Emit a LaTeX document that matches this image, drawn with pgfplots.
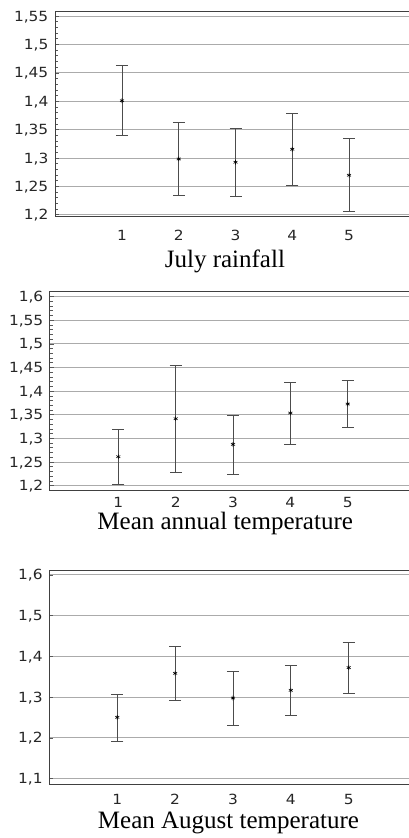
\documentclass[border=0pt]{standalone}
\usepackage{pgfplots}
\pgfplotsset{compat=1.18}
\usepackage{pgfplotstable}
\usepackage{fontspec}
\setmainfont{Liberation Serif}
\newfontfamily\tickfont[FakeStretch=1.1]{DejaVu Sans}
\newcommand\tickfontsize{\tickfont\fontsize{14}{16}\selectfont}

\pgfplotstableread{
x y lo hi
1 1.4010 1.3390 1.4626
2 1.2985 1.2346 1.3630
3 1.2927 1.2330 1.3525
4 1.3155 1.2516 1.3790
5 1.2698 1.2065 1.3350
}\julyrain

\pgfplotstableread{
x y lo hi
1 1.2614 1.2028 1.3185
2 1.3418 1.2282 1.4547
3 1.2875 1.2240 1.3489
4 1.3538 1.2882 1.4180
5 1.3728 1.3242 1.4236
}\annualtemp

\pgfplotstableread{
x y lo hi
1 1.2506 1.1917 1.3070
2 1.3586 1.2923 1.4249
3 1.2980 1.2309 1.3635
4 1.3169 1.2555 1.3790
5 1.3725 1.3095 1.4339
}\augtemp

\pgfplotsset{
  panel/.style={
    scale only axis,
    anchor=north west,
    /pgf/number format/use comma,
    /pgf/number format/assume math mode=true,
    tick label style={text=black!85, font=\tickfontsize},
    xtick={1,2,3,4,5},
    xtick pos=bottom,
    ytick pos=left,
    tick align=inside,
    major tick length=4pt,
    minor tick length=3pt,
    tick style={draw=black!65, line width=0.8pt},
    x tick style={draw=none},
    ymajorgrids,
    major grid style={draw=black!33, line width=1pt},
    axis line style={draw=black!75, line width=1pt},
    yticklabel style={anchor=base east, inner sep=0pt, xshift=-6.5pt, yshift=-5pt},
    xlabel style={font=\fontsize{25}{28}\selectfont, anchor=base, inner sep=0pt},
    clip=false,
  },
  ebar/.style={
    draw=black!70, line width=0.9pt,
    mark=asterisk, mark size=2.3pt, mark options={black, line width=0.6pt},
    only marks,
    error bars/.cd, y dir=both, y explicit,
    error bar style={draw=black!70, line width=0.9pt},
    error mark options={rotate=90, mark size=6pt, line width=0.9pt, draw=black!70},
  },
}

\begin{document}
\begin{tikzpicture}
\useasboundingbox (0,0) rectangle (408pt,-838pt);

% Panel 1: July rainfall
\begin{axis}[panel,
  at={(55pt,-11pt)}, width=357pt, height=205pt,
  xmin=-0.18, xmax=6.109, ymin=1.198, ymax=1.559,
  ytick={1.2,1.25,1.3,1.35,1.4,1.45,1.5,1.55},
  minor y tick num=4,
  xticklabel style={anchor=base, inner sep=0pt, yshift=-24.5pt},
  xlabel={July rainfall},
  xlabel style={at={(axis description cs:0.476,0)}, yshift=-51pt},
]
\addplot+[ebar] table[x=x, y=y,
  y error plus expr=\thisrow{hi}-\thisrow{y},
  y error minus expr=\thisrow{y}-\thisrow{lo}] {\julyrain};
\end{axis}

% Panel 2: Mean annual temperature
\begin{axis}[panel,
  at={(50pt,-291pt)}, width=362pt, height=199.7pt,
  xmin=-0.191, xmax=6.121, ymin=1.1894, ymax=1.612,
  ytick={1.2,1.25,1.3,1.35,1.4,1.45,1.5,1.55,1.6},
  minor y tick num=4,
  xticklabel style={anchor=base, inner sep=0pt, yshift=-16.8pt},
  xlabel={Mean annual temperature},
  xlabel style={at={(axis description cs:0.484,0)}, yshift=-39.2pt},
]
\addplot+[ebar] table[x=x, y=y,
  y error plus expr=\thisrow{hi}-\thisrow{y},
  y error minus expr=\thisrow{y}-\thisrow{lo}] {\annualtemp};
\end{axis}

% Panel 3: Mean August temperature
\begin{axis}[panel,
  at={(49.3pt,-570pt)}, width=362.7pt, height=214pt,
  xmin=-0.175, xmax=6.094, ymin=1.087, ymax=1.612,
  ytick={1.1,1.2,1.3,1.4,1.5,1.6},
  xticklabel style={anchor=base, inner sep=0pt, yshift=-20.5pt},
  xlabel={Mean August temperature},
  xlabel style={at={(axis description cs:0.494,0)}, yshift=-44.5pt},
]
\addplot+[ebar] table[x=x, y=y,
  y error plus expr=\thisrow{hi}-\thisrow{y},
  y error minus expr=\thisrow{y}-\thisrow{lo}] {\augtemp};
\end{axis}
\end{tikzpicture}
\end{document}
